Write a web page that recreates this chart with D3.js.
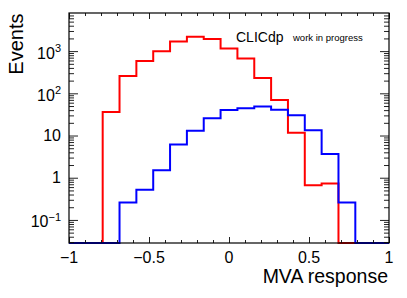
<!DOCTYPE html>
<html>
<head>
<meta charset="utf-8">
<script src="https://cdn.jsdelivr.net/npm/d3@7"></script>
<style>
  body { margin: 0; background: #fff; }
  text { font-family: "Liberation Sans", Arial, Helvetica, sans-serif; fill: #000; }
</style>
</head>
<body>
<script>
// histogram binning (19 equal bins from -1 to 1)
var nBins = 19, xMin = -1, xMax = 1;

// events per bin (0 = empty bin)
var redCounts  = [0, 0, 36, 256, 580, 990, 1690, 2180, 1930, 1160, 670, 232, 69, 11.6, 0.66, 0.73, 0, 0, 0];
var blueCounts = [0, 0, 0, 0.26, 0.52, 1.5, 6.1, 12.9, 25.8, 40.4, 44.5, 48.9, 40.6, 30.1, 13.4, 3.65, 0.26, 0, 0];

var xMajor = [-1, -0.5, 0, 0.5, 1];
var xLabels = ["\u22121", "\u22120.5", "0", "0.5", "1"];
var xMinor = d3.range(-10, 11).map(function(d) { return d / 10; });

var yMin = 0.0284, yMax = 8000;
var yMajor = [0.1, 1, 10, 100, 1000];
var yBase = ["10", "1", "10", "10", "10"];
var ySup = ["\u22121", "", "", "2", "3"];

var frame = {left: 69, right: 389, top: 13, bottom: 243};

var svg = d3.select("body").append("svg")
    .attr("width", 407)
    .attr("height", 298);

var x = d3.scaleLinear()
    .domain([xMin, xMax])
    .range([frame.left, frame.right]);

var y = d3.scaleLog()
    .domain([yMin, yMax])
    .range([frame.bottom, frame.top]);

var yMinor = [];
for (var e = -2; e <= 3; e++) {
  for (var m = 2; m <= 9; m++) {
    var v = m * Math.pow(10, e);
    if (v > yMin && v < yMax) yMinor.push(v);
  }
}

function histPoints(counts) {
  var w = (xMax - xMin) / nBins, pts = [];
  counts.forEach(function(c, i) {
    var yy = y(Math.max(c, yMin));
    pts.push([x(xMin + i * w), yy]);
    pts.push([x(xMin + (i + 1) * w), yy]);
  });
  return pts;
}

var line = d3.line();

svg.append("path")
    .attr("d", line(histPoints(redCounts)))
    .attr("fill", "none")
    .attr("stroke", "#ff0000")
    .attr("stroke-width", 2);

svg.append("path")
    .attr("d", line(histPoints(blueCounts)))
    .attr("fill", "none")
    .attr("stroke", "#0000ff")
    .attr("stroke-width", 2);

// ticks, all pointing inward
function tickAxis(axis, tx, ty, values, size) {
  var g = svg.append("g")
      .attr("transform", "translate(" + tx + "," + ty + ")")
      .call(axis.tickValues(values).tickSize(size).tickFormat(""));
  g.select(".domain").remove();
  g.selectAll("line").attr("stroke", "#222");
  return g;
}

tickAxis(d3.axisBottom(x), 0, frame.bottom, xMinor, -3);
tickAxis(d3.axisBottom(x), 0, frame.bottom, xMajor, -6);
tickAxis(d3.axisTop(x), 0, frame.top, xMinor, -3);
tickAxis(d3.axisTop(x), 0, frame.top, xMajor, -6);
tickAxis(d3.axisLeft(y), frame.left, 0, yMinor, -5);
tickAxis(d3.axisLeft(y), frame.left, 0, yMajor, -9);
tickAxis(d3.axisRight(y), frame.right, 0, yMinor, -5);
tickAxis(d3.axisRight(y), frame.right, 0, yMajor, -9);

svg.append("rect")
    .attr("x", frame.left)
    .attr("y", frame.top)
    .attr("width", frame.right - frame.left)
    .attr("height", frame.bottom - frame.top)
    .attr("fill", "none")
    .attr("stroke", "#000")
    .attr("stroke-width", 1.2);

// x tick labels
svg.selectAll(".xlab")
    .data(xMajor)
  .enter().append("text")
    .attr("class", "xlab")
    .attr("x", function(d) { return x(d); })
    .attr("y", 262.5)
    .attr("text-anchor", "middle")
    .style("font-size", "16px")
    .text(function(d, i) { return xLabels[i]; });

// y tick labels with exponents
var ylab = svg.selectAll(".ylab")
    .data(yMajor)
  .enter().append("text")
    .attr("class", "ylab")
    .attr("x", 61)
    .attr("y", function(d, i) { return y(d) + (ySup[i] ? 7.5 : 5.5); })
    .attr("text-anchor", "end")
    .style("font-size", "16px");

ylab.append("tspan")
    .text(function(d, i) { return yBase[i]; });

ylab.append("tspan")
    .attr("dy", -6.5)
    .style("font-size", "11px")
    .text(function(d, i) { return ySup[i]; });

// axis titles
svg.append("text")
    .attr("x", 388)
    .attr("y", 283)
    .attr("text-anchor", "end")
    .style("font-size", "19.5px")
    .text("MVA response");

svg.append("text")
    .attr("transform", "translate(23,13.5) rotate(-90)")
    .attr("text-anchor", "end")
    .style("font-size", "20px")
    .text("Events");

svg.append("text")
    .attr("x", 236)
    .attr("y", 41.5)
    .style("font-size", "14px")
    .text("CLICdp");

svg.append("text")
    .attr("x", 293)
    .attr("y", 41)
    .style("font-size", "9.5px")
    .text("work in progress");
</script>
</body>
</html>
